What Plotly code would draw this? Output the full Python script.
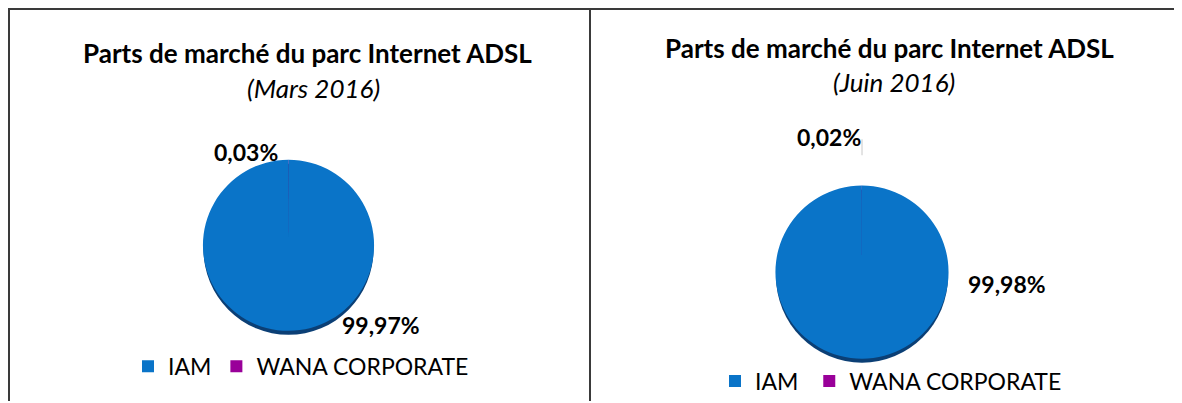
import plotly.graph_objects as go

# The page body has an 8px margin, so the figure is sized to fit the window
OFF = 8
W, H = 1182 - OFF, 403 - OFF

operators = ["IAM", "WANA CORPORATE"]
colors = ["#0a74c8", "#990099"]
share_mars = [99.97, 0.03]
share_juin = [99.98, 0.02]
periods = ["(Mars 2016)", "(Juin 2016)"]
title = "Parts de marché du parc Internet ADSL"

FONT = "Lato, 'Open Sans', sans-serif"


def fmt(v):
    return f"{v:.2f}".replace(".", ",") + "%"


def px(x):  # page x -> paper fraction
    return (x - OFF) / W


def py(y):  # page y -> paper fraction
    return (H - (y - OFF)) / H


panels = [
    dict(values=share_mars, period=periods[0], cx=288.5, cy=246.5, r=86,
         t1=(307, 53), t2=(313, 88), leg_y=368, leg_x=301,
         lab=[(381, 327), (246, 153)], suffix=""),
    dict(values=share_juin, period=periods[1], cx=862, cy=273.5, r=87,
         t1=(889, 48), t2=(894, 82), leg_y=383, leg_x=894,
         lab=[(1007, 285), (829, 138)], suffix=" "),
]

fig = go.Figure()
shapes = []
annotations = []

for i, p in enumerate(panels):
    cx, cy, r = p["cx"], p["cy"], p["r"]
    legname = "legend" if i == 0 else "legend2"
    fig.add_trace(go.Pie(
        labels=[o + p["suffix"] for o in operators],
        values=p["values"],
        sort=False,
        direction="clockwise",
        rotation=0,
        marker=dict(colors=colors, line=dict(width=0)),
        textinfo="none",
        hoverinfo="label+percent",
        domain=dict(x=[px(cx - r), px(cx + r)], y=[py(cy + r), py(cy - r)]),
        legend=legname,
        showlegend=True,
    ))
    # dark bottom shadow of the 3D-like pie
    shapes.append(dict(type="circle", xref="paper", yref="paper", layer="below",
                       x0=px(cx - r + 1), x1=px(cx + r - 1),
                       y0=py(cy + r + 4), y1=py(cy - r + 4),
                       fillcolor="#0b3f75", line=dict(width=0)))
    annotations.append(dict(text=f"<b>{title}</b>", x=px(p["t1"][0]), y=py(p["t1"][1]),
                            xref="paper", yref="paper", showarrow=False,
                            xanchor="center", yanchor="middle",
                            font=dict(family=FONT, size=26, color="#000000")))
    annotations.append(dict(text=f"<i>{p['period']}</i>", x=px(p["t2"][0]), y=py(p["t2"][1]),
                            xref="paper", yref="paper", showarrow=False,
                            xanchor="center", yanchor="middle",
                            font=dict(family=FONT, size=26, color="#000000")))
    for v, (lx, ly) in zip(p["values"], p["lab"]):
        annotations.append(dict(text=f"<b>{fmt(v)}</b>", x=px(lx), y=py(ly),
                                xref="paper", yref="paper", showarrow=False,
                                xanchor="center", yanchor="middle",
                                font=dict(family=FONT, size=23, color="#000000")))

# leader line for 0,02%
shapes.append(dict(type="line", xref="paper", yref="paper",
                   x0=px(862), x1=px(862), y0=py(156), y1=py(140),
                   line=dict(color="#c8c8c8", width=1)))

# table frame lines
frame = "#3a3a3a"
shapes += [
    dict(type="line", xref="paper", yref="paper", x0=0, x1=1.0,
         y0=py(9), y1=py(9), line=dict(color=frame, width=2)),
    dict(type="line", xref="paper", yref="paper", x0=px(9), x1=px(9),
         y0=0, y1=py(9), line=dict(color=frame, width=2)),
    dict(type="line", xref="paper", yref="paper", x0=px(590), x1=px(590),
         y0=0, y1=py(9), line=dict(color=frame, width=2)),
]

legend_common = dict(orientation="h", xanchor="center", yanchor="middle",
                     font=dict(family=FONT, size=23, color="#000000"),
                     bgcolor="rgba(0,0,0,0)", itemclick=False, itemdoubleclick=False)

fig.update_layout(
    width=W, height=H, autosize=False,
    margin=dict(l=0, r=0, t=0, b=0),
    paper_bgcolor="#ffffff", plot_bgcolor="#ffffff",
    shapes=shapes,
    annotations=annotations,
    legend=dict(x=px(panels[0]["leg_x"]), y=py(panels[0]["leg_y"]), **legend_common),
    legend2=dict(x=px(panels[1]["leg_x"]), y=py(panels[1]["leg_y"]), **legend_common),
)

fig.write_html("out.html")
